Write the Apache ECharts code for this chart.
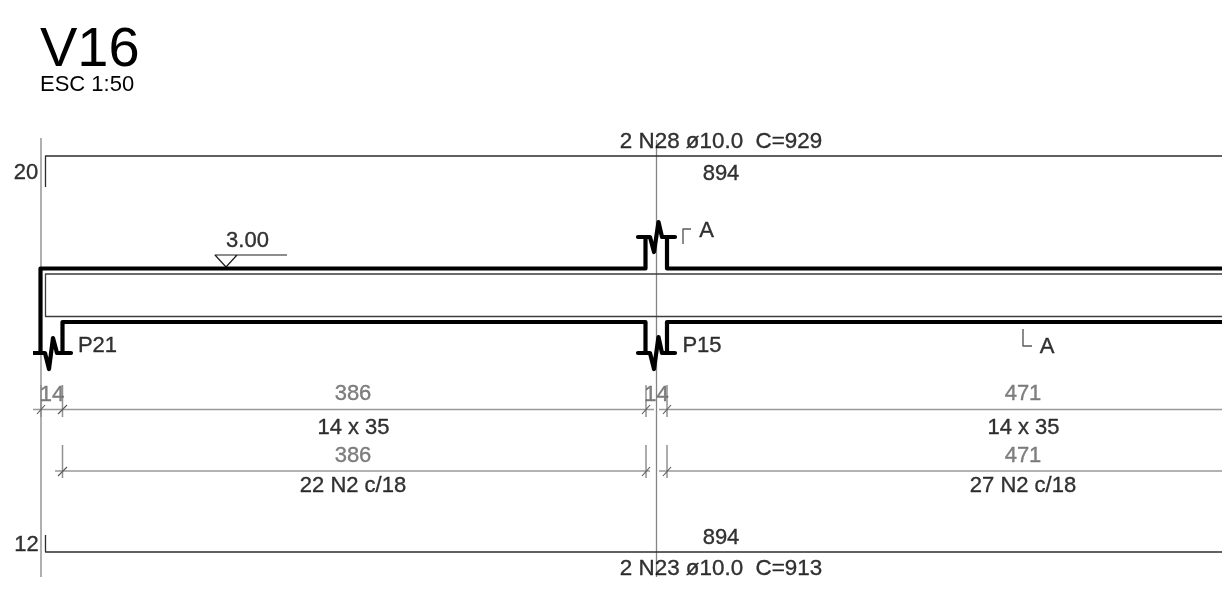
<!DOCTYPE html>
<html>
<head>
<meta charset="utf-8">
<style>html,body{margin:0;padding:0;background:#fff}#c{width:1222px;height:602px}</style>
<script src="https://cdn.jsdelivr.net/npm/echarts@6/dist/echarts.min.js"></script>
</head>
<body>
<div id="c"></div>
<script>
// Drawing geometry, in drawing units
const beamOutlineTop = [[40.5,353],[40.5,268.5],[645.5,268.5],[645.5,237],[638,237],[650,237],[654,252],[658.5,222],[662,237],[675,237],[667,237],[667,268.5],[1222,268.5]];
const beamOutlineBottomLeft = [[33,353],[45,353],[49,369],[53,338],[57,353],[71,353],[62.5,353],[62.5,322],[645.5,322],[645.5,353],[638,353],[650,353],[654,369],[658.5,337],[662,353],[675,353],[667,353],[667,322],[1222,322]];
const beamInner = [[1222,274],[45.5,274],[45.5,316.5],[1222,316.5]];
const rebarTop = [[45.5,187],[45.5,156],[1222,156]];
const rebarBottom = [[45.5,535],[45.5,552],[1222,552]];
const levelMark = [[287,255],[215,255],[226,267],[237,255]];
const sectionMarkTop = [[683,244],[683,229],[691,229]];
const sectionMarkBottom = [[1023,329],[1023,346],[1032,346]];
const axisLines = [
  [[41,138],[41,577]],
  [[656.5,140],[656.5,577]]
];
const dimLines = [
  [[33,409.5],[654,409.5]],
  [[659,409.5],[1222,409.5]],
  [[55,471],[650,471]],
  [[659,471],[1222,471]]
];
const extLines = [
  [[41,385],[41,417]],
  [[62.5,385],[62.5,417]],
  [[646,385],[646,417]],
  [[667,385],[667,417]],
  [[62.5,445],[62.5,478]],
  [[646,445],[646,478]],
  [[667,445],[667,478]]
];
const dimTicks = [
  [[37,414],[45,405]],
  [[58,414],[67,405]],
  [[642,414],[650,405]],
  [[663,414],[671,405]],
  [[58,476],[67,467]],
  [[642,476],[650,467]],
  [[663,476],[671,467]]
];
// Texts: [x, y, text]
const rebarTexts = [
  [721,142,'2 N28 ø10.0  C=929'],
  [721,568.5,'2 N23 ø10.0  C=913']
];
const blackCentered = [
  [721,174,'894'],
  [721,538,'894'],
  [353.5,428,'14 x 35'],
  [1023.5,428,'14 x 35'],
  [353,486,'22 N2 c/18'],
  [1023,486,'27 N2 c/18'],
  [247.5,241,'3.00'],
  [706.5,231,'A'],
  [1047,347,'A'],
  [97.5,346,'P21'],
  [702,346,'P15'],
  [26,173,'20'],
  [26.5,545,'12']
];
const greyCentered = [
  [52,395,'14'],
  [656.5,395,'14'],
  [353,394,'386'],
  [1023,394,'471'],
  [353,456,'386'],
  [1023,456,'471']
];
const titleText = 'V16';
const subtitleText = 'ESC 1:50';

const FONT = '"Liberation Sans", Arial, sans-serif';
function poly(data, color, width) {
  return {type:'line', data, symbol:'none', silent:true, animation:false, clip:true,
    lineStyle:{color, width, cap:'butt', join:'round'}, z:2};
}
function labels(data, color, size) {
  return {type:'scatter', data:data.map(d=>({value:[d[0],d[1]],text:d[2]})), symbolSize:0, silent:true, animation:false, z:5,
    label:{show:true, position:'inside', formatter:p=>p.data.text, color, fontFamily:FONT, fontSize:size, align:'center', verticalAlign:'middle',
      textBorderColor:color, textBorderWidth:0.35}};
}
const series = [
  ...axisLines.map(l=>poly(l,'#858585',1.3)),
  ...dimLines.map(l=>poly(l,'#999999',1.7)),
  ...extLines.map(l=>poly(l,'#909090',1.5)),
  ...dimTicks.map(l=>poly(l,'#555555',1.1)),
  poly(beamInner,'#3c3c3c',1.3),
  poly(rebarTop,'#2c2c2c',1.3),
  poly(rebarBottom,'#2c2c2c',1.3),
  poly(levelMark,'#1c1c1c',1.2),
  poly(sectionMarkTop,'#5a5a5a',1.4),
  poly(sectionMarkBottom,'#5a5a5a',1.4),
  poly(beamOutlineTop,'#000000',4.2),
  poly(beamOutlineBottomLeft,'#000000',4.2),
  labels(rebarTexts,'#000000',22.4),
  labels(blackCentered,'#000000',22),
  labels(greyCentered,'#606060',22)
];
const chart = echarts.init(document.getElementById('c'), null, {renderer:'canvas'});
chart.setOption({
  animation:false,
  backgroundColor:'#ffffff',
  title:[
    {text:titleText, left:40, top:23, textStyle:{fontFamily:FONT, fontSize:56, fontWeight:'normal', color:'#000'}, padding:0},
    {text:subtitleText, left:40, top:74, textStyle:{fontFamily:FONT, fontSize:22, fontWeight:'normal', color:'#000'}, padding:0}
  ],
  grid:{left:0,right:0,top:0,bottom:0,containLabel:false},
  xAxis:{type:'value',min:0,max:1222,show:false},
  yAxis:{type:'value',min:0,max:602,inverse:true,show:false},
  tooltip:{show:false},
  legend:{show:false},
  series
});
</script>
</body>
</html>
